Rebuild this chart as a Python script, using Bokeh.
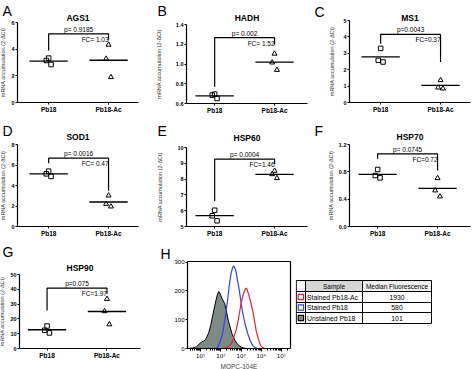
import numpy as np
from bokeh.plotting import figure
from bokeh.models import Range1d, FixedTicker, Label, NumeralTickFormatter, LinearAxis
from bokeh.layouts import row, column
from bokeh.core.properties import value
from bokeh.embed import file_html
from bokeh.resources import INLINE

FONT = "Liberation Sans"

# ---------------- data ----------------
categories = ["Pb18", "Pb18-Ac"]
genes = ["AGS1", "HADH", "MS1", "SOD1", "HSP60", "HSP70", "HSP90"]
panel_letters = ["A", "B", "C", "D", "E", "F", "G"]

ags1_pb18 = [3.33, 3.15, 2.85]
ags1_ac = [4.33, 3.28, 1.90]
hadh_pb18 = [0.695, 0.685, 0.651]
hadh_ac = [1.104, 1.015, 0.940]
ms1_pb18 = [3.30, 2.57, 2.47]
ms1_ac = [1.36, 0.91, 0.85]
sod1_pb18 = [5.40, 5.14, 4.88]
sod1_ac = [3.02, 2.20, 1.95]
hsp60_pb18 = [6.03, 5.68, 5.36]
hsp60_ac = [8.52, 8.31, 8.06]
hsp70_pb18 = [0.834, 0.746, 0.712]
hsp70_ac = [0.707, 0.527, 0.439]
hsp90_pb18 = [15.2, 12.3, 10.5]
hsp90_ac = [33.5, 25.2, 16.3]

pb18_values = [ags1_pb18, hadh_pb18, ms1_pb18, sod1_pb18, hsp60_pb18, hsp70_pb18, hsp90_pb18]
ac_values = [ags1_ac, hadh_ac, ms1_ac, sod1_ac, hsp60_ac, hsp70_ac, hsp90_ac]

p_values = ["p= 0.9185", "p= 0.002", "p=0.0043", "p= 0.0016", "p= 0.0004", "p= 0.0745", "p=0.075"]
fold_changes = ["FC= 1.03", "FC= 1.52", "FC=0.37", "FC= 0.47", "FC=1.46", "FC=0.72", "FC=1.97"]
bracket_left = [3.9, 0.77, 3.58, 6.18, 6.62, 0.99, 25.7]
bracket_top = [5.15, 1.267, 4.15, 6.67, 9.26, 1.063, 40.8]
bracket_right = [4.7, 1.196, 2.47, 3.5, 8.95, 0.82, 36.8]

y_ticks = [[0, 2, 4, 6], [0.6, 0.8, 1.0, 1.2, 1.4], [0, 1, 2, 3, 4, 5], [0, 2, 4, 6, 8],
           [5, 6, 7, 8, 9, 10], [0.0, 0.4, 0.8, 1.2], [0, 10, 20, 30, 40, 50]]
y_formats = ["0", "0.0", "0", "0", "0", "0.0", "0"]
y_label = "mRNA accumulation (2-\u0394Ct)"

# flow cytometry histogram (x in log10 units)
decade_ticks = [1, 2, 3, 4, 5]
decade_labels = ["10\u00b9", "10\u00b2", "10\u00b3", "10\u2074", "10\u2075"]
count_ticks = [0, 100, 200, 300]
unstained_log = [0.35, 0.6, 0.8, 1.0, 1.15, 1.25, 1.4, 1.5, 1.6, 1.72, 1.82, 1.9, 1.97,
                 2.05, 2.2, 2.37, 2.55, 2.7, 2.8, 2.95, 3.1, 3.3]
unstained_count = [0, 2, 6, 20, 26, 31, 55, 80, 115, 155, 185, 198, 190, 175, 155, 97,
                   52, 28, 17, 7, 2, 0]
stained_log = [1.7, 1.83, 1.95, 2.08, 2.2, 2.33, 2.42, 2.5, 2.58, 2.63, 2.68, 2.75, 2.83,
               2.92, 3.0, 3.08, 3.2, 3.33, 3.45, 3.58, 3.7, 3.83]
stained_count = [0, 3, 20, 50, 100, 165, 220, 258, 280, 287, 282, 268, 235, 200, 160, 125,
                 85, 52, 28, 10, 3, 0]
stained_ac_log = [2.1, 2.25, 2.4, 2.5, 2.62, 2.75, 2.88, 3.0, 3.1, 3.17, 3.25, 3.3, 3.42,
                  3.5, 3.58, 3.67, 3.75, 3.85, 3.97, 4.07, 4.17]
stained_ac_count = [0, 3, 8, 15, 35, 62, 105, 155, 185, 200, 210, 205, 177, 155, 131, 95,
                    62, 35, 10, 3, 0]
hist_xlabel = "MOPC-104E"
hist_xlim = (0.35, 5.45)
hist_ylim = (0, 302)

table_header = ["Sample", "Median Fluorescence"]
table_samples = ["Stained Pb18-Ac", "Stained Pb18", "Unstained Pb18"]
table_medians = ["1930", "580", "101"]

RED = "#e8222e"
BLUE = "#3344ee"
GRAY_FILL = "#7d8a85"

# ---------------- layout specs (pixels) ----------------
specs = [
    dict(W=155, H=120, L=17, R=17, T=22, B=18, x0=-0.52, std=2, lx=2, ly=2, gap=4.5),
    dict(W=155, H=120, L=31, R=3, T=24, B=17, x0=-0.47, std=11, lx=2, ly=2, gap=7),
    dict(W=164, H=120, L=39, R=4, T=20, B=18, x0=-0.52, std=5, lx=4, ly=3, gap=3),
    dict(W=155, H=120, L=17, R=17, T=24, B=14, x0=-0.52, std=2, lx=2, ly=2, gap=8),
    dict(W=155, H=120, L=31, R=3, T=27, B=14, x0=-0.47, std=11, lx=2, ly=2, gap=10),
    dict(W=164, H=120, L=39, R=4, T=24, B=14, x0=-0.47, std=2, lx=4, ly=2, gap=8),
    dict(W=155, H=129, L=19, R=15, T=34, B=21, x0=-0.46, std=2, lx=2, ly=3, gap=7),
]
JITTER = [0.0, -0.04, 0.04]
XSPAN = 2.02
HALF = 0.32


def base_fig(W, H, xlo, xhi, ylo, yhi, L, R, T, B):
    """Figure whose frame fills it; [xlo,xhi]x[ylo,yhi] maps to the inner plot box."""
    ux = (xhi - xlo) / (W - L - R)
    uy = (yhi - ylo) / (H - T - B)
    p = figure(width=W, height=H, output_backend="svg", toolbar_location=None, title=None,
               x_axis_type=None, y_axis_type=None,
               x_range=Range1d(xlo - L * ux, xhi + R * ux),
               y_range=Range1d(ylo - B * uy, yhi + T * uy),
               min_border=0, min_border_left=0, min_border_right=0,
               min_border_top=0, min_border_bottom=0)
    p.outline_line_color = None
    p.grid.visible = False
    return p


def screen_label(p, sx, sy, text, size, style="normal", align="left", baseline="top"):
    p.add_layout(Label(x=sx, y=sy, x_units="screen", y_units="screen", text=text,
                       text_font=FONT, text_font_size=size, text_font_style=style,
                       text_align=align, text_baseline=baseline, text_color="black"))


def style_axis(ax, size, bold, tick_out):
    ax.major_label_text_font = FONT
    ax.major_label_text_font_size = size
    ax.major_label_text_font_style = "bold" if bold else "normal"
    ax.major_label_text_color = "black"
    ax.major_tick_out = tick_out
    ax.major_tick_in = 0
    ax.minor_tick_out = 0
    ax.minor_tick_in = 0
    ax.major_label_standoff = 1
    ax.axis_line_width = 1.2
    ax.major_tick_line_width = 1


def make_panel(i):
    s = specs[i]
    yt = y_ticks[i]
    x0, x1 = s["x0"], s["x0"] + XSPAN
    p = base_fig(s["W"], s["H"], x0, x1, yt[0], yt[-1], s["L"], s["R"], s["T"], s["B"])

    xa = LinearAxis(fixed_location=yt[0], bounds=(x0, x1), ticker=FixedTicker(ticks=[0, 1]))
    xa.major_label_overrides = {0: categories[0], 1: categories[1]}
    style_axis(xa, "6.5px", True, 2)
    p.add_layout(xa, "below")

    ya = LinearAxis(fixed_location=x0, bounds=(yt[0], yt[-1]), ticker=FixedTicker(ticks=yt),
                    formatter=NumeralTickFormatter(format=y_formats[i]))
    style_axis(ya, "5.5px", True, 2)
    ya.axis_label = y_label
    ya.axis_label_text_font = FONT
    ya.axis_label_text_font_size = "5.5px"
    ya.axis_label_text_font_style = "normal"
    ya.axis_label_text_color = "#333333"
    ya.axis_label_standoff = int(s["std"])
    p.add_layout(ya, "left")

    pb = pb18_values[i]
    ac = ac_values[i]
    p.scatter(x=[0 + j for j in JITTER], y=pb, marker="square", size=4.5,
              fill_color=None, line_color="black", line_width=1)
    p.scatter(x=[1 + j for j in JITTER], y=ac, marker="triangle", size=5,
              fill_color=None, line_color="black", line_width=1)
    means = [float(np.mean(pb)), float(np.mean(ac))]
    p.segment(x0=[0 - HALF, 1 - HALF], x1=[0 + HALF, 1 + HALF], y0=means, y1=means,
              line_color="black", line_width=1.3)

    bt = bracket_top[i]
    p.line(x=[0, 0, 1, 1], y=[bracket_left[i], bt, bt, bracket_right[i]],
           line_color="black", line_width=1.2)
    p.add_layout(Label(x=0.5, y=bt, y_offset=1, text=p_values[i], text_font=FONT,
                       text_color="black", text_font_size="6.5px", text_align="center",
                       text_baseline="bottom"))
    p.add_layout(Label(x=1, y=bt, y_offset=-2, text=fold_changes[i], text_font=FONT,
                       text_color="black", text_font_size="6.5px", text_align="right",
                       text_baseline="top"))

    fw = s["W"] - s["L"] - s["R"]
    screen_label(p, s["L"] + fw / 2, s["H"] - s["T"] + s["gap"], genes[i], "8.5px", "bold",
                 "center", "alphabetic")
    screen_label(p, s["lx"], s["H"] - s["ly"], panel_letters[i], "14px")
    return p


panels = [make_panel(i) for i in range(7)]

# ---------------- histogram panel H ----------------
HW, HH, HL, HR, HT, HB = 140, 129, 32, 5, 21, 21
h = base_fig(HW, HH, hist_xlim[0], hist_xlim[1], hist_ylim[0], hist_ylim[1], HL, HR, HT, HB)
h.patch(x=unstained_log, y=unstained_count, fill_color=GRAY_FILL, line_color="black",
        line_width=1)
h.line(x=stained_log, y=stained_count, line_color=BLUE, line_width=1.2)
h.line(x=stained_ac_log, y=stained_ac_count, line_color=RED, line_width=1.2)

minor = [float(np.log10(k * 10.0 ** n)) for n in range(0, 6) for k in range(2, 10)]
minor = [m for m in minor if hist_xlim[0] <= m <= hist_xlim[1]]
hx = LinearAxis(fixed_location=hist_ylim[0], bounds=hist_xlim,
                ticker=FixedTicker(ticks=decade_ticks, minor_ticks=minor))
style_axis(hx, "5.5px", False, 3)
hx.major_label_text_font = "DejaVu Sans"
hx.minor_tick_out = 2
hx.major_label_overrides = {t: l for t, l in zip(decade_ticks, decade_labels)}
hx.axis_label = hist_xlabel
hx.axis_label_text_font = FONT
hx.axis_label_text_font_size = "6.5px"
hx.axis_label_text_font_style = "normal"
hx.axis_label_standoff = 1
h.add_layout(hx, "below")
hy = LinearAxis(fixed_location=hist_xlim[0], bounds=hist_ylim,
                ticker=FixedTicker(ticks=count_ticks))
style_axis(hy, "6px", False, 2)
hy.major_label_standoff = 1
h.add_layout(hy, "left")
for loc, bnds, side in [(hist_ylim[1], hist_xlim, "above"), (hist_xlim[1], hist_ylim, "right")]:
    ax = LinearAxis(fixed_location=loc, bounds=bnds, ticker=FixedTicker(ticks=[]))
    ax.major_label_text_font_size = "0px"
    ax.major_tick_out = 0
    ax.minor_tick_out = 0
    ax.axis_line_width = 1.2
    h.add_layout(ax, side)
screen_label(h, 5, HH - 5, "H", "14px")

# ---------------- table ----------------
TW, TH = 179, 129
t = figure(width=TW, height=TH, output_backend="svg", toolbar_location=None, title=None,
           x_axis_type=None, y_axis_type=None,
           x_range=Range1d(0, TW), y_range=Range1d(TH, 0), min_border=0,
           min_border_left=0, min_border_right=0, min_border_top=0, min_border_bottom=0)
t.grid.visible = False
t.outline_line_color = None

cx = [0.8, 10.0, 67.0, 136.0]
ry = [40.0, 51.0, 62.0, 72.0, 83.0]
t.quad(left=[cx[1], cx[2]], right=[cx[2], cx[3]], top=[ry[0], ry[0]], bottom=[ry[1], ry[1]],
       fill_color=["#d6d6d6", "#eeeeee"], line_color=None)
t.segment(x0=[cx[0]] * len(ry), x1=[cx[-1]] * len(ry), y0=ry, y1=ry,
          line_color="black", line_width=1)
t.segment(x0=cx, x1=cx, y0=[ry[0]] * len(cx), y1=[ry[-1]] * len(cx),
          line_color="black", line_width=1)

row_mid = [(ry[k + 1] + ry[k + 2]) / 2 for k in range(3)]
sw = 2.7
sx_mid = (cx[0] + cx[1]) / 2
t.quad(left=[sx_mid - sw] * 3, right=[sx_mid + sw] * 3,
       top=[m - sw for m in row_mid], bottom=[m + sw for m in row_mid],
       fill_color=["white", "white", GRAY_FILL], line_color=[RED, BLUE, "black"],
       line_width=1.2)
t.text(x=[cx[1] + 1.5] * 3, y=row_mid, text=table_samples, text_font=value(FONT),
       text_font_size="6.8px", text_align="left", text_baseline="middle")
t.text(x=[(cx[2] + cx[3]) / 2] * 3, y=row_mid, text=table_medians, text_font=value(FONT),
       text_font_size="6.8px", text_align="center", text_baseline="middle")
hmid = (ry[0] + ry[1]) / 2
t.text(x=[(cx[1] + cx[2]) / 2, (cx[2] + cx[3]) / 2], y=[hmid, hmid], text=table_header,
       text_font=value(FONT), text_font_size="6.5px", text_align="center",
       text_baseline="middle")

layout = column(row(panels[0], panels[1], panels[2]),
                row(panels[3], panels[4], panels[5]),
                row(panels[6], h, t))

open("out.html", "w").write(file_html(layout, INLINE))
